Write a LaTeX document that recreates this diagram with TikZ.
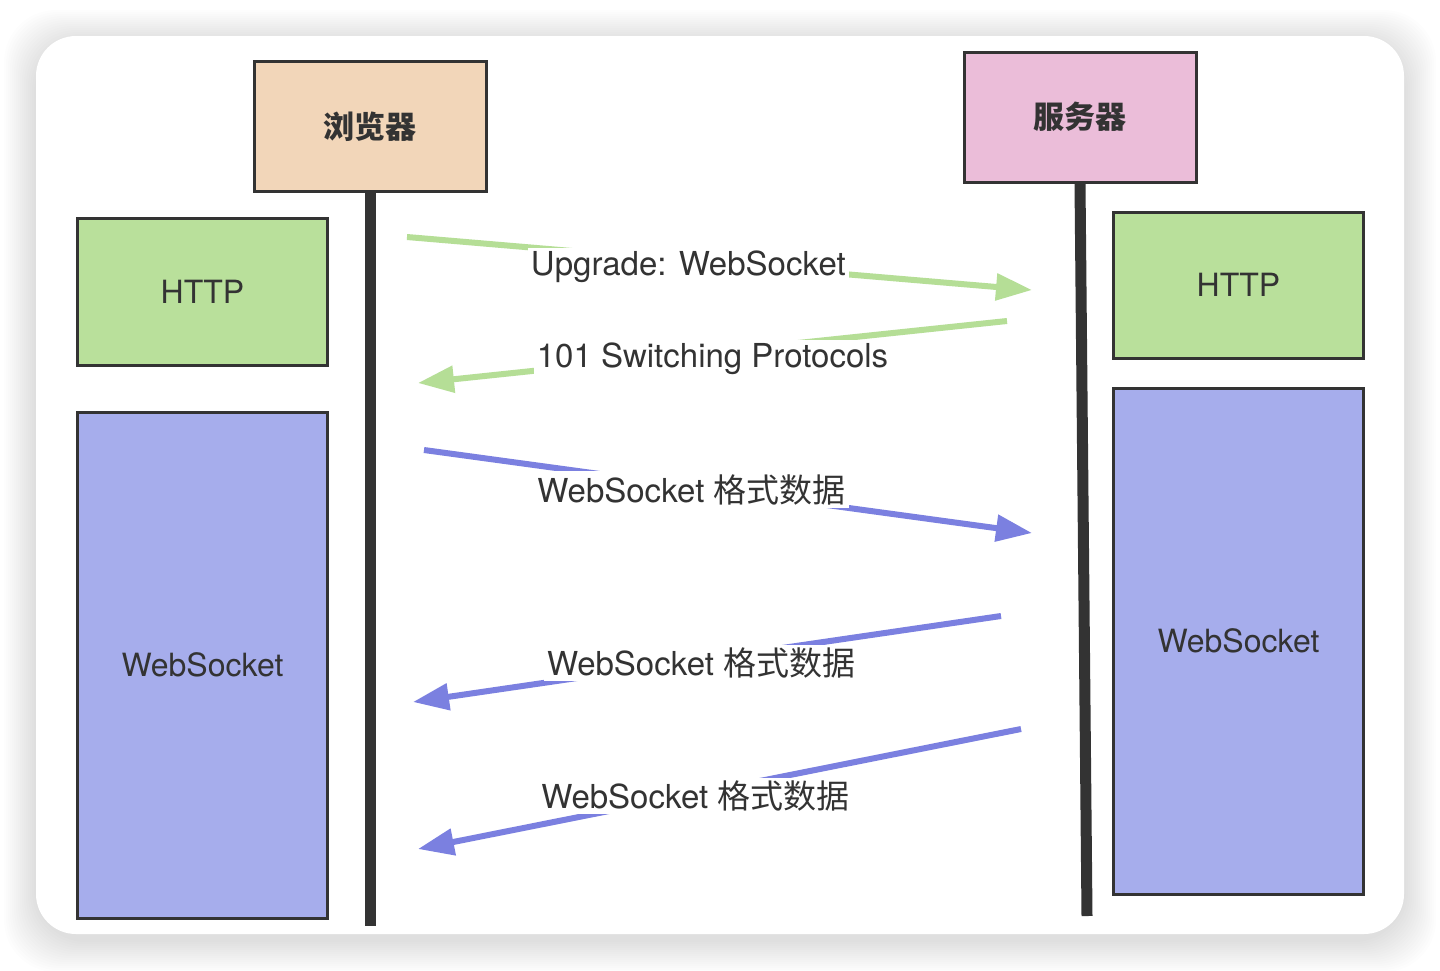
\documentclass[tikz,border=0pt]{standalone}
\usepackage{fontspec}
\setmainfont{TeX Gyre Heros}
\newfontfamily\cjk{Noto Sans CJK SC}
\usetikzlibrary{positioning, arrows.meta}
\definecolor{ink}{HTML}{333333}
\definecolor{peach}{HTML}{F2D6B9}
\definecolor{pink}{HTML}{EBBDD9}
\definecolor{httpgreen}{HTML}{B9E09B}
\definecolor{wsblue}{HTML}{A6ADEC}
\definecolor{hsgreen}{HTML}{B5DE96}
\definecolor{msgblue}{HTML}{7B80E0}

\tikzset{
  hostbox/.style={draw=ink, line width=1.5pt, minimum width=116pt, minimum height=65pt,
    font=\cjk\bfseries\fontsize{15.5}{18}\selectfont, text=ink},
  layerbox/.style={draw=ink, line width=1.5pt, minimum width=125pt,
    font=\fontsize{16}{19}\selectfont, text=ink},
  lifeline/.style={ink, line width=5.5pt},
  msg/.style={line width=3pt, -{Triangle[length=18pt, width=13pt]}},
  msglabel/.style={fill=white, inner sep=1.5pt, text=ink, font=\fontsize{16.5}{19}\selectfont},
}

\begin{document}
\begin{tikzpicture}[x=0.5pt, y=-0.5pt]
  \useasboundingbox (0,0) rectangle (1440,970);
  \fill[white] (0,0) rectangle (1440,970);
  % card with soft shadow
  \foreach \k in {1,...,16}
    \fill[black, opacity=0.008, rounded corners=26pt] (36-2*\k, 42-2*\k) rectangle (1404+2*\k, 940+2*\k);
  \fill[white, rounded corners=20pt] (36,36) rectangle (1404,934);

  % hosts and lifelines
  \node[hostbox, fill=peach] (browser) at (370,126.5) {浏览器};
  \node[hostbox, fill=pink] (server) at (1080,117) {服务器};
  \coordinate (browser-end) at (370,926);
  \coordinate (server-end) at (1087,916);
  \draw[lifeline] (browser.south) -- (browser-end);
  \draw[lifeline] (server.south) -- (server-end);

  % protocol layers
  \node[layerbox, fill=httpgreen, minimum height=73.5pt] (http-l) at (202.5,291.5) {HTTP};
  \node[layerbox, fill=wsblue, minimum height=253pt] (ws-l) at (202.5,665) {WebSocket};
  \node[layerbox, fill=httpgreen, minimum height=73pt] (http-r) at (1238.5,285) {HTTP};
  \node[layerbox, fill=wsblue, minimum height=253pt] (ws-r) at (1238.5,641) {WebSocket};

  % messages
  \coordinate (m1-s) at (407,237);  \coordinate (m1-e) at (1032,290);
  \coordinate (m2-s) at (1007,321); \coordinate (m2-e) at (418,383);
  \coordinate (m3-s) at (424,450);  \coordinate (m3-e) at (1032,533);
  \coordinate (m4-s) at (1001,616); \coordinate (m4-e) at (413,702);
  \coordinate (m5-s) at (1021,729); \coordinate (m5-e) at (418,849);
  \draw[msg, hsgreen] (m1-s) -- node[msglabel, pos=0.45, yshift=-3pt] {Upgrade: WebSocket} (m1-e);
  \draw[msg, hsgreen] (m2-s) -- node[msglabel, pos=0.5, yshift=-3.5pt] {101 Switching Protocols} (m2-e);
  \draw[msg, msgblue] (m3-s) -- node[msglabel, pos=0.44, yshift=-1.5pt] {WebSocket {\cjk 格式数据}} (m3-e);
  \draw[msg, msgblue] (m4-s) -- node[msglabel, pos=0.51, yshift=-1.5pt] {WebSocket {\cjk 格式数据}} (m4-e);
  \draw[msg, msgblue] (m5-s) -- node[msglabel, pos=0.54, yshift=-1pt] {WebSocket {\cjk 格式数据}} (m5-e);
\end{tikzpicture}
\end{document}
